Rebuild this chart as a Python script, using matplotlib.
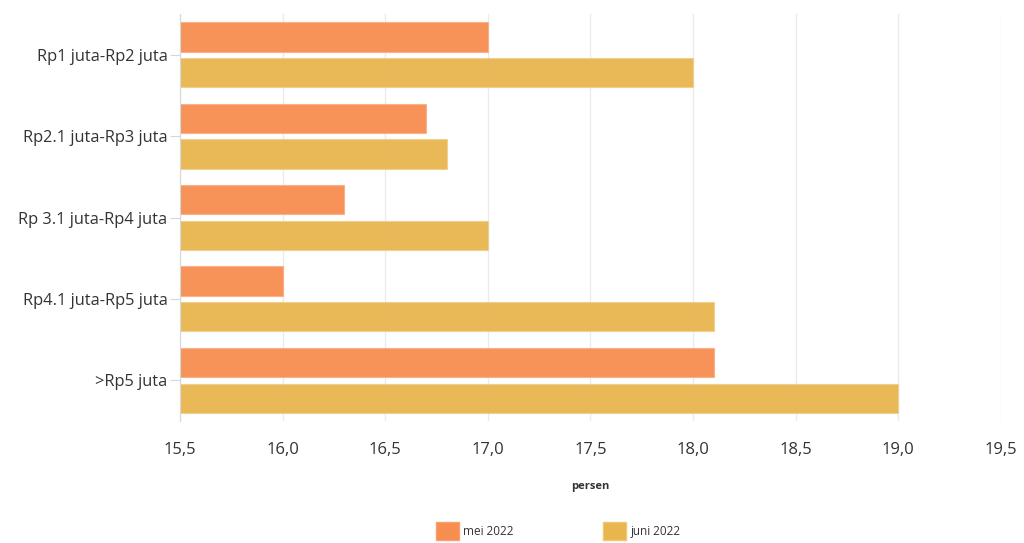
import numpy as np
import matplotlib.pyplot as plt
from matplotlib.patches import Patch
from matplotlib.ticker import FuncFormatter

# --- data ---
categories = ["Rp1 juta-Rp2 juta", "Rp2.1 juta-Rp3 juta", "Rp 3.1 juta-Rp4 juta",
              "Rp4.1 juta-Rp5 juta", ">Rp5 juta"]
mei_2022 = [17.0, 16.7, 16.3, 16.0, 18.1]
juni_2022 = [18.0, 16.8, 17.0, 18.1, 19.0]
series_names = ["mei 2022", "juni 2022"]
x_ticks = [15.5, 16.0, 16.5, 17.0, 17.5, 18.0, 18.5, 19.0, 19.5]

ORANGE = "#f78d4f"
YELLOW = "#e8b54f"
plt.rcParams['font.family'] = ['Open Sans', 'DejaVu Sans']

fig = plt.figure(figsize=(10.24, 5.43), dpi=100)
ax = fig.add_axes([0.1758, 0.2247, 0.8017, 0.7493])

y = np.arange(len(categories))
h = 0.36
ax.barh(y - 0.22, np.array(mei_2022) - 15.5, left=15.5, height=h, color=ORANGE,
        alpha=0.95, edgecolor="#f9b08a", linewidth=0.8, zorder=2)
ax.barh(y + 0.22, np.array(juni_2022) - 15.5, left=15.5, height=h, color=YELLOW,
        alpha=0.95, edgecolor="#f0cf8f", linewidth=0.8, zorder=2)

ax.set_xlim(15.5, 19.5)
ax.set_ylim(len(categories) - 0.5, -0.5)
ax.set_xticks(x_ticks)
ax.xaxis.set_major_formatter(FuncFormatter(lambda v, p: f"{v:.1f}".replace(".", ",")))
ax.set_yticks(y)
ax.set_yticklabels(categories)

ax.grid(axis='x', color="#ebebeb", linewidth=1, zorder=0)
for s in ["top", "right", "bottom"]:
    ax.spines[s].set_visible(False)
ax.spines["left"].set_color("#d8d8d8")
ax.tick_params(axis='x', length=0, pad=15, labelsize=12, labelcolor="#333333")
ax.tick_params(axis='y', length=7, color="#d8d8d8", pad=2, labelsize=11.8, labelcolor="#333333")

ax.set_xlabel("persen", fontsize=8, fontweight="bold", color="#333333", labelpad=17)

handles = [Patch(facecolor=ORANGE, edgecolor="#f9a070"),
           Patch(facecolor=YELLOW, edgecolor="#f0c870")]
fig.legend(handles, series_names, loc="center", bbox_to_anchor=(0.545, 0.022), ncol=2,
           frameon=False, fontsize=8.5, handlelength=2.0, handleheight=2.0,
           columnspacing=7.5, handletextpad=0.35, labelcolor="#333333")

fig.savefig("out.png", dpi=100)
